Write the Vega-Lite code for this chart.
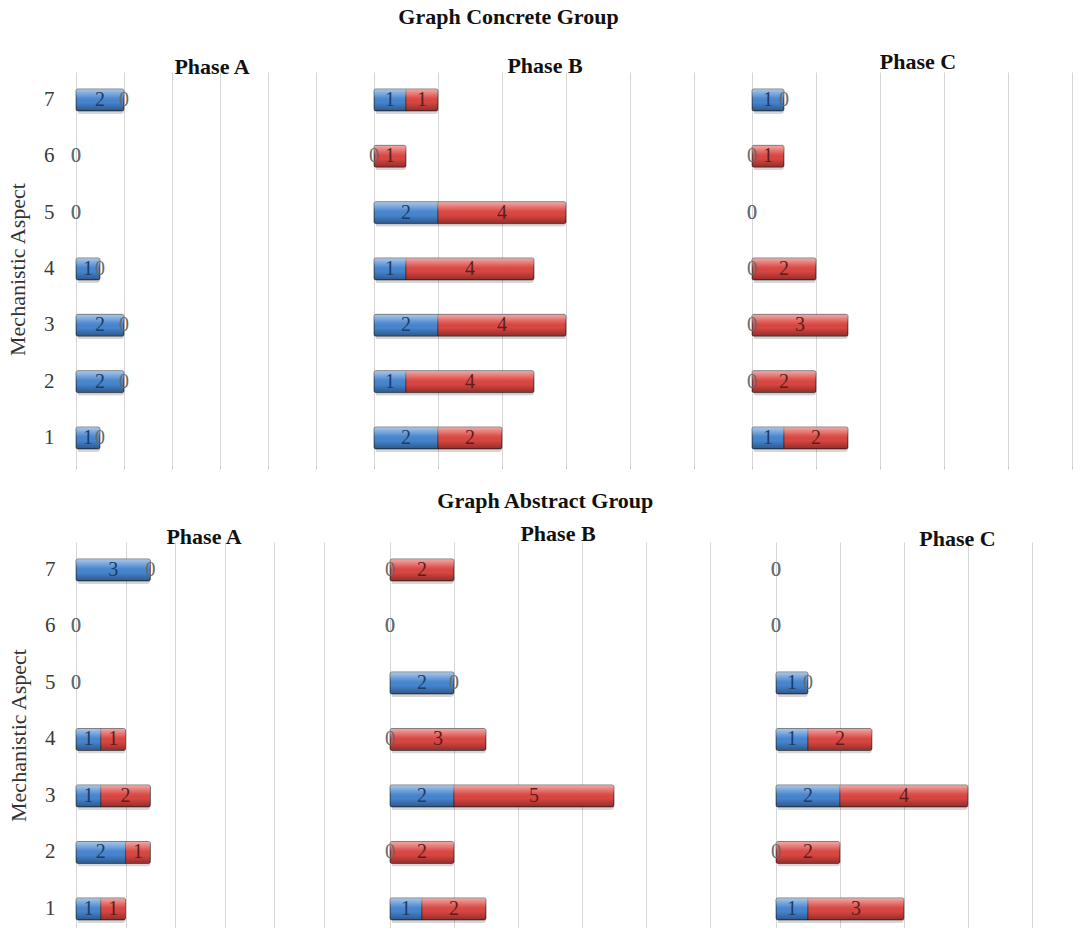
{
  "$schema": "https://vega.github.io/schema/vega-lite/v6.json",
  "padding": {"left": 6, "top": 6, "right": 0, "bottom": 0},
  "background": "white",
  "spacing": 20,
  "config": {
    "view": {"stroke": null},
    "font": "Liberation Serif",
    "title": {"font": "Liberation Serif", "fontSize": 22, "fontWeight": "bold", "color": "#111111", "anchor": "middle"},
    "axisX": {"grid": true, "gridColor": "#d6d6d6", "gridWidth": 1, "labels": false, "domain": false, "ticks": true, "tickColor": "#c4c4c4", "tickSize": 3, "title": null}
  },
  "datasets": {
    "counts": [
      {"group": "Concrete", "phase": "A", "aspect": 7, "series": "S1", "count": 2},
      {"group": "Concrete", "phase": "A", "aspect": 7, "series": "S2", "count": 0},
      {"group": "Concrete", "phase": "A", "aspect": 6, "series": "S1", "count": 0},
      {"group": "Concrete", "phase": "A", "aspect": 6, "series": "S2", "count": 0},
      {"group": "Concrete", "phase": "A", "aspect": 5, "series": "S1", "count": 0},
      {"group": "Concrete", "phase": "A", "aspect": 5, "series": "S2", "count": 0},
      {"group": "Concrete", "phase": "A", "aspect": 4, "series": "S1", "count": 1},
      {"group": "Concrete", "phase": "A", "aspect": 4, "series": "S2", "count": 0},
      {"group": "Concrete", "phase": "A", "aspect": 3, "series": "S1", "count": 2},
      {"group": "Concrete", "phase": "A", "aspect": 3, "series": "S2", "count": 0},
      {"group": "Concrete", "phase": "A", "aspect": 2, "series": "S1", "count": 2},
      {"group": "Concrete", "phase": "A", "aspect": 2, "series": "S2", "count": 0},
      {"group": "Concrete", "phase": "A", "aspect": 1, "series": "S1", "count": 1},
      {"group": "Concrete", "phase": "A", "aspect": 1, "series": "S2", "count": 0},

      {"group": "Concrete", "phase": "B", "aspect": 7, "series": "S1", "count": 1},
      {"group": "Concrete", "phase": "B", "aspect": 7, "series": "S2", "count": 1},
      {"group": "Concrete", "phase": "B", "aspect": 6, "series": "S1", "count": 0},
      {"group": "Concrete", "phase": "B", "aspect": 6, "series": "S2", "count": 1},
      {"group": "Concrete", "phase": "B", "aspect": 5, "series": "S1", "count": 2},
      {"group": "Concrete", "phase": "B", "aspect": 5, "series": "S2", "count": 4},
      {"group": "Concrete", "phase": "B", "aspect": 4, "series": "S1", "count": 1},
      {"group": "Concrete", "phase": "B", "aspect": 4, "series": "S2", "count": 4},
      {"group": "Concrete", "phase": "B", "aspect": 3, "series": "S1", "count": 2},
      {"group": "Concrete", "phase": "B", "aspect": 3, "series": "S2", "count": 4},
      {"group": "Concrete", "phase": "B", "aspect": 2, "series": "S1", "count": 1},
      {"group": "Concrete", "phase": "B", "aspect": 2, "series": "S2", "count": 4},
      {"group": "Concrete", "phase": "B", "aspect": 1, "series": "S1", "count": 2},
      {"group": "Concrete", "phase": "B", "aspect": 1, "series": "S2", "count": 2},

      {"group": "Concrete", "phase": "C", "aspect": 7, "series": "S1", "count": 1},
      {"group": "Concrete", "phase": "C", "aspect": 7, "series": "S2", "count": 0},
      {"group": "Concrete", "phase": "C", "aspect": 6, "series": "S1", "count": 0},
      {"group": "Concrete", "phase": "C", "aspect": 6, "series": "S2", "count": 1},
      {"group": "Concrete", "phase": "C", "aspect": 5, "series": "S1", "count": 0},
      {"group": "Concrete", "phase": "C", "aspect": 5, "series": "S2", "count": 0},
      {"group": "Concrete", "phase": "C", "aspect": 4, "series": "S1", "count": 0},
      {"group": "Concrete", "phase": "C", "aspect": 4, "series": "S2", "count": 2},
      {"group": "Concrete", "phase": "C", "aspect": 3, "series": "S1", "count": 0},
      {"group": "Concrete", "phase": "C", "aspect": 3, "series": "S2", "count": 3},
      {"group": "Concrete", "phase": "C", "aspect": 2, "series": "S1", "count": 0},
      {"group": "Concrete", "phase": "C", "aspect": 2, "series": "S2", "count": 2},
      {"group": "Concrete", "phase": "C", "aspect": 1, "series": "S1", "count": 1},
      {"group": "Concrete", "phase": "C", "aspect": 1, "series": "S2", "count": 2},

      {"group": "Abstract", "phase": "A", "aspect": 7, "series": "S1", "count": 3},
      {"group": "Abstract", "phase": "A", "aspect": 7, "series": "S2", "count": 0},
      {"group": "Abstract", "phase": "A", "aspect": 6, "series": "S1", "count": 0},
      {"group": "Abstract", "phase": "A", "aspect": 6, "series": "S2", "count": 0},
      {"group": "Abstract", "phase": "A", "aspect": 5, "series": "S1", "count": 0},
      {"group": "Abstract", "phase": "A", "aspect": 5, "series": "S2", "count": 0},
      {"group": "Abstract", "phase": "A", "aspect": 4, "series": "S1", "count": 1},
      {"group": "Abstract", "phase": "A", "aspect": 4, "series": "S2", "count": 1},
      {"group": "Abstract", "phase": "A", "aspect": 3, "series": "S1", "count": 1},
      {"group": "Abstract", "phase": "A", "aspect": 3, "series": "S2", "count": 2},
      {"group": "Abstract", "phase": "A", "aspect": 2, "series": "S1", "count": 2},
      {"group": "Abstract", "phase": "A", "aspect": 2, "series": "S2", "count": 1},
      {"group": "Abstract", "phase": "A", "aspect": 1, "series": "S1", "count": 1},
      {"group": "Abstract", "phase": "A", "aspect": 1, "series": "S2", "count": 1},

      {"group": "Abstract", "phase": "B", "aspect": 7, "series": "S1", "count": 0},
      {"group": "Abstract", "phase": "B", "aspect": 7, "series": "S2", "count": 2},
      {"group": "Abstract", "phase": "B", "aspect": 6, "series": "S1", "count": 0},
      {"group": "Abstract", "phase": "B", "aspect": 6, "series": "S2", "count": 0},
      {"group": "Abstract", "phase": "B", "aspect": 5, "series": "S1", "count": 2},
      {"group": "Abstract", "phase": "B", "aspect": 5, "series": "S2", "count": 0},
      {"group": "Abstract", "phase": "B", "aspect": 4, "series": "S1", "count": 0},
      {"group": "Abstract", "phase": "B", "aspect": 4, "series": "S2", "count": 3},
      {"group": "Abstract", "phase": "B", "aspect": 3, "series": "S1", "count": 2},
      {"group": "Abstract", "phase": "B", "aspect": 3, "series": "S2", "count": 5},
      {"group": "Abstract", "phase": "B", "aspect": 2, "series": "S1", "count": 0},
      {"group": "Abstract", "phase": "B", "aspect": 2, "series": "S2", "count": 2},
      {"group": "Abstract", "phase": "B", "aspect": 1, "series": "S1", "count": 1},
      {"group": "Abstract", "phase": "B", "aspect": 1, "series": "S2", "count": 2},

      {"group": "Abstract", "phase": "C", "aspect": 7, "series": "S1", "count": 0},
      {"group": "Abstract", "phase": "C", "aspect": 7, "series": "S2", "count": 0},
      {"group": "Abstract", "phase": "C", "aspect": 6, "series": "S1", "count": 0},
      {"group": "Abstract", "phase": "C", "aspect": 6, "series": "S2", "count": 0},
      {"group": "Abstract", "phase": "C", "aspect": 5, "series": "S1", "count": 1},
      {"group": "Abstract", "phase": "C", "aspect": 5, "series": "S2", "count": 0},
      {"group": "Abstract", "phase": "C", "aspect": 4, "series": "S1", "count": 1},
      {"group": "Abstract", "phase": "C", "aspect": 4, "series": "S2", "count": 2},
      {"group": "Abstract", "phase": "C", "aspect": 3, "series": "S1", "count": 2},
      {"group": "Abstract", "phase": "C", "aspect": 3, "series": "S2", "count": 4},
      {"group": "Abstract", "phase": "C", "aspect": 2, "series": "S1", "count": 0},
      {"group": "Abstract", "phase": "C", "aspect": 2, "series": "S2", "count": 2},
      {"group": "Abstract", "phase": "C", "aspect": 1, "series": "S1", "count": 1},
      {"group": "Abstract", "phase": "C", "aspect": 1, "series": "S2", "count": 3}
    ]
  },
  "vconcat": [
    {
      "title": {"text": "Graph Concrete Group", "offset": 22, "dx": -31},
      "bounds": "flush",
      "spacing": 58,
      "hconcat": [
        {
          "width": 240, "height": 394,
          "title": {"text": "Phase A", "dx": 16, "offset": -7},
          "data": {"name": "counts"},
          "transform": [{"filter": "datum.group === 'Concrete' && datum.phase === 'A'"}],
          "encoding": {
            "y": {"field": "aspect", "type": "ordinal", "sort": "descending", "scale": {"paddingInner": 0.61, "paddingOuter": 0.302},
                  "axis": {"title": "Mechanistic Aspect", "domain": false, "ticks": false, "grid": false, "labelAngle": 0, "labelPadding": 22, "labelFont": "Liberation Serif", "labelFontSize": 21, "labelColor": "#3a3a3a", "titleFont": "Liberation Serif", "titleFontSize": 22, "titleFontWeight": "normal", "titleColor": "#333333", "titlePadding": 14}},
            "x": {"field": "count", "type": "quantitative", "stack": "zero", "scale": {"domain": [0, 10], "nice": false}, "axis": {"values": [0, 2, 4, 6, 8, 10]}},
            "order": {"field": "series"},
            "detail": {"field": "series"}
          },
          "layer": [
            {"transform": [{"filter": "datum.count > 0"}], "mark": {"type": "bar", "fill": "#000000", "opacity": 0.16, "yOffset": 3, "xOffset": 2, "cornerRadius": 3}},
            {"transform": [{"filter": "datum.count > 0"}], "mark": {"type": "bar", "stroke": "#262626", "strokeOpacity": 0.55, "strokeWidth": 1, "cornerRadius": 2},
             "encoding": {"color": {"field": "series", "scale": {"domain": ["S1", "S2"], "range": ["#4686d0", "#dc4641"]}, "legend": null}}},
            {"transform": [{"filter": "datum.count > 0"}], "mark": {"type": "bar", "cornerRadius": 2, "fill": {"gradient": "linear", "x1": 0, "y1": 0, "x2": 0, "y2": 1, "stops": [{"offset": 0, "color": "rgba(255,255,255,0.55)"}, {"offset": 0.35, "color": "rgba(255,255,255,0.12)"}, {"offset": 0.6, "color": "rgba(0,0,0,0)"}, {"offset": 1, "color": "rgba(0,0,0,0.35)"}]}}},
            {"mark": {"type": "text", "font": "Liberation Serif", "fontSize": 20},
             "encoding": {"x": {"field": "count", "type": "quantitative", "stack": "zero", "bandPosition": 0.5}, "text": {"field": "count"},
                          "color": {"condition": [{"test": "datum.count === 0", "value": "#6a6a6a"}, {"test": "datum.series === 'S1'", "value": "#1d3c66"}], "value": "#5e1d1a"}}}
          ]
        },
        {
          "width": 320, "height": 394,
          "title": {"text": "Phase B", "dx": 11, "offset": -6},
          "data": {"name": "counts"},
          "transform": [{"filter": "datum.group === 'Concrete' && datum.phase === 'B'"}],
          "encoding": {
            "y": {"field": "aspect", "type": "ordinal", "sort": "descending", "scale": {"paddingInner": 0.61, "paddingOuter": 0.302}, "axis": null},
            "x": {"field": "count", "type": "quantitative", "stack": "zero", "scale": {"domain": [0, 10], "nice": false}, "axis": {"values": [0, 2, 4, 6, 8, 10]}},
            "order": {"field": "series"},
            "detail": {"field": "series"}
          },
          "layer": [
            {"transform": [{"filter": "datum.count > 0"}], "mark": {"type": "bar", "fill": "#000000", "opacity": 0.16, "yOffset": 3, "xOffset": 2, "cornerRadius": 3}},
            {"transform": [{"filter": "datum.count > 0"}], "mark": {"type": "bar", "stroke": "#262626", "strokeOpacity": 0.55, "strokeWidth": 1, "cornerRadius": 2},
             "encoding": {"color": {"field": "series", "scale": {"domain": ["S1", "S2"], "range": ["#4686d0", "#dc4641"]}, "legend": null}}},
            {"transform": [{"filter": "datum.count > 0"}], "mark": {"type": "bar", "cornerRadius": 2, "fill": {"gradient": "linear", "x1": 0, "y1": 0, "x2": 0, "y2": 1, "stops": [{"offset": 0, "color": "rgba(255,255,255,0.55)"}, {"offset": 0.35, "color": "rgba(255,255,255,0.12)"}, {"offset": 0.6, "color": "rgba(0,0,0,0)"}, {"offset": 1, "color": "rgba(0,0,0,0.35)"}]}}},
            {"mark": {"type": "text", "font": "Liberation Serif", "fontSize": 20},
             "encoding": {"x": {"field": "count", "type": "quantitative", "stack": "zero", "bandPosition": 0.5}, "text": {"field": "count"},
                          "color": {"condition": [{"test": "datum.count === 0", "value": "#6a6a6a"}, {"test": "datum.series === 'S1'", "value": "#1d3c66"}], "value": "#5e1d1a"}}}
          ]
        },
        {
          "width": 320, "height": 394,
          "title": {"text": "Phase C", "dx": 6, "offset": -2},
          "data": {"name": "counts"},
          "transform": [{"filter": "datum.group === 'Concrete' && datum.phase === 'C'"}],
          "encoding": {
            "y": {"field": "aspect", "type": "ordinal", "sort": "descending", "scale": {"paddingInner": 0.61, "paddingOuter": 0.302}, "axis": null},
            "x": {"field": "count", "type": "quantitative", "stack": "zero", "scale": {"domain": [0, 10], "nice": false}, "axis": {"values": [0, 2, 4, 6, 8, 10]}},
            "order": {"field": "series"},
            "detail": {"field": "series"}
          },
          "layer": [
            {"transform": [{"filter": "datum.count > 0"}], "mark": {"type": "bar", "fill": "#000000", "opacity": 0.16, "yOffset": 3, "xOffset": 2, "cornerRadius": 3}},
            {"transform": [{"filter": "datum.count > 0"}], "mark": {"type": "bar", "stroke": "#262626", "strokeOpacity": 0.55, "strokeWidth": 1, "cornerRadius": 2},
             "encoding": {"color": {"field": "series", "scale": {"domain": ["S1", "S2"], "range": ["#4686d0", "#dc4641"]}, "legend": null}}},
            {"transform": [{"filter": "datum.count > 0"}], "mark": {"type": "bar", "cornerRadius": 2, "fill": {"gradient": "linear", "x1": 0, "y1": 0, "x2": 0, "y2": 1, "stops": [{"offset": 0, "color": "rgba(255,255,255,0.55)"}, {"offset": 0.35, "color": "rgba(255,255,255,0.12)"}, {"offset": 0.6, "color": "rgba(0,0,0,0)"}, {"offset": 1, "color": "rgba(0,0,0,0.35)"}]}}},
            {"mark": {"type": "text", "font": "Liberation Serif", "fontSize": 20},
             "encoding": {"x": {"field": "count", "type": "quantitative", "stack": "zero", "bandPosition": 0.5}, "text": {"field": "count"},
                          "color": {"condition": [{"test": "datum.count === 0", "value": "#6a6a6a"}, {"test": "datum.series === 'S1'", "value": "#1d3c66"}], "value": "#5e1d1a"}}}
          ]
        }
      ]
    },
    {
      "title": {"text": "Graph Abstract Group", "offset": 10},
      "bounds": "flush",
      "spacing": 66,
      "hconcat": [
        {
          "width": 248, "height": 386,
          "title": {"text": "Phase A", "dx": 4, "offset": -7},
          "data": {"name": "counts"},
          "transform": [{"filter": "datum.group === 'Abstract' && datum.phase === 'A'"}],
          "encoding": {
            "y": {"field": "aspect", "type": "ordinal", "sort": "descending", "scale": {"paddingInner": 0.61, "paddingOuter": 0.221, "align": 0.68},
                  "axis": {"title": "Mechanistic  Aspect", "domain": false, "ticks": false, "grid": false, "labelAngle": 0, "labelPadding": 21, "labelFont": "Liberation Serif", "labelFontSize": 21, "labelColor": "#3a3a3a", "titleFont": "Liberation Serif", "titleFontSize": 22, "titleFontWeight": "normal", "titleColor": "#333333", "titlePadding": 14}},
            "x": {"field": "count", "type": "quantitative", "stack": "zero", "scale": {"domain": [0, 10], "nice": false}, "axis": {"ticks": false, "values": [0, 2, 4, 6, 8, 10]}},
            "order": {"field": "series"},
            "detail": {"field": "series"}
          },
          "layer": [
            {"transform": [{"filter": "datum.count > 0"}], "mark": {"type": "bar", "fill": "#000000", "opacity": 0.16, "yOffset": 3, "xOffset": 2, "cornerRadius": 3}},
            {"transform": [{"filter": "datum.count > 0"}], "mark": {"type": "bar", "stroke": "#262626", "strokeOpacity": 0.55, "strokeWidth": 1, "cornerRadius": 2},
             "encoding": {"color": {"field": "series", "scale": {"domain": ["S1", "S2"], "range": ["#4686d0", "#dc4641"]}, "legend": null}}},
            {"transform": [{"filter": "datum.count > 0"}], "mark": {"type": "bar", "cornerRadius": 2, "fill": {"gradient": "linear", "x1": 0, "y1": 0, "x2": 0, "y2": 1, "stops": [{"offset": 0, "color": "rgba(255,255,255,0.55)"}, {"offset": 0.35, "color": "rgba(255,255,255,0.12)"}, {"offset": 0.6, "color": "rgba(0,0,0,0)"}, {"offset": 1, "color": "rgba(0,0,0,0.35)"}]}}},
            {"mark": {"type": "text", "font": "Liberation Serif", "fontSize": 20},
             "encoding": {"x": {"field": "count", "type": "quantitative", "stack": "zero", "bandPosition": 0.5}, "text": {"field": "count"},
                          "color": {"condition": [{"test": "datum.count === 0", "value": "#6a6a6a"}, {"test": "datum.series === 'S1'", "value": "#1d3c66"}], "value": "#5e1d1a"}}}
          ]
        },
        {
          "width": 320, "height": 386,
          "title": {"text": "Phase B", "dx": 8, "offset": -4},
          "data": {"name": "counts"},
          "transform": [{"filter": "datum.group === 'Abstract' && datum.phase === 'B'"}],
          "encoding": {
            "y": {"field": "aspect", "type": "ordinal", "sort": "descending", "scale": {"paddingInner": 0.61, "paddingOuter": 0.221, "align": 0.68}, "axis": null},
            "x": {"field": "count", "type": "quantitative", "stack": "zero", "scale": {"domain": [0, 10], "nice": false}, "axis": {"ticks": false, "values": [0, 2, 4, 6, 8, 10]}},
            "order": {"field": "series"},
            "detail": {"field": "series"}
          },
          "layer": [
            {"transform": [{"filter": "datum.count > 0"}], "mark": {"type": "bar", "fill": "#000000", "opacity": 0.16, "yOffset": 3, "xOffset": 2, "cornerRadius": 3}},
            {"transform": [{"filter": "datum.count > 0"}], "mark": {"type": "bar", "stroke": "#262626", "strokeOpacity": 0.55, "strokeWidth": 1, "cornerRadius": 2},
             "encoding": {"color": {"field": "series", "scale": {"domain": ["S1", "S2"], "range": ["#4686d0", "#dc4641"]}, "legend": null}}},
            {"transform": [{"filter": "datum.count > 0"}], "mark": {"type": "bar", "cornerRadius": 2, "fill": {"gradient": "linear", "x1": 0, "y1": 0, "x2": 0, "y2": 1, "stops": [{"offset": 0, "color": "rgba(255,255,255,0.55)"}, {"offset": 0.35, "color": "rgba(255,255,255,0.12)"}, {"offset": 0.6, "color": "rgba(0,0,0,0)"}, {"offset": 1, "color": "rgba(0,0,0,0.35)"}]}}},
            {"mark": {"type": "text", "font": "Liberation Serif", "fontSize": 20},
             "encoding": {"x": {"field": "count", "type": "quantitative", "stack": "zero", "bandPosition": 0.5}, "text": {"field": "count"},
                          "color": {"condition": [{"test": "datum.count === 0", "value": "#6a6a6a"}, {"test": "datum.series === 'S1'", "value": "#1d3c66"}], "value": "#5e1d1a"}}}
          ]
        },
        {
          "width": 307, "height": 386,
          "title": {"text": "Phase C", "dx": 28, "offset": -9},
          "data": {"name": "counts"},
          "transform": [{"filter": "datum.group === 'Abstract' && datum.phase === 'C'"}],
          "encoding": {
            "y": {"field": "aspect", "type": "ordinal", "sort": "descending", "scale": {"paddingInner": 0.61, "paddingOuter": 0.221, "align": 0.68}, "axis": null},
            "x": {"field": "count", "type": "quantitative", "stack": "zero", "scale": {"domain": [0, 9.6], "nice": false}, "axis": {"ticks": false, "values": [0, 2, 4, 6, 8]}},
            "order": {"field": "series"},
            "detail": {"field": "series"}
          },
          "layer": [
            {"transform": [{"filter": "datum.count > 0"}], "mark": {"type": "bar", "fill": "#000000", "opacity": 0.16, "yOffset": 3, "xOffset": 2, "cornerRadius": 3}},
            {"transform": [{"filter": "datum.count > 0"}], "mark": {"type": "bar", "stroke": "#262626", "strokeOpacity": 0.55, "strokeWidth": 1, "cornerRadius": 2},
             "encoding": {"color": {"field": "series", "scale": {"domain": ["S1", "S2"], "range": ["#4686d0", "#dc4641"]}, "legend": null}}},
            {"transform": [{"filter": "datum.count > 0"}], "mark": {"type": "bar", "cornerRadius": 2, "fill": {"gradient": "linear", "x1": 0, "y1": 0, "x2": 0, "y2": 1, "stops": [{"offset": 0, "color": "rgba(255,255,255,0.55)"}, {"offset": 0.35, "color": "rgba(255,255,255,0.12)"}, {"offset": 0.6, "color": "rgba(0,0,0,0)"}, {"offset": 1, "color": "rgba(0,0,0,0.35)"}]}}},
            {"mark": {"type": "text", "font": "Liberation Serif", "fontSize": 20},
             "encoding": {"x": {"field": "count", "type": "quantitative", "stack": "zero", "bandPosition": 0.5}, "text": {"field": "count"},
                          "color": {"condition": [{"test": "datum.count === 0", "value": "#6a6a6a"}, {"test": "datum.series === 'S1'", "value": "#1d3c66"}], "value": "#5e1d1a"}}}
          ]
        }
      ]
    }
  ]
}
